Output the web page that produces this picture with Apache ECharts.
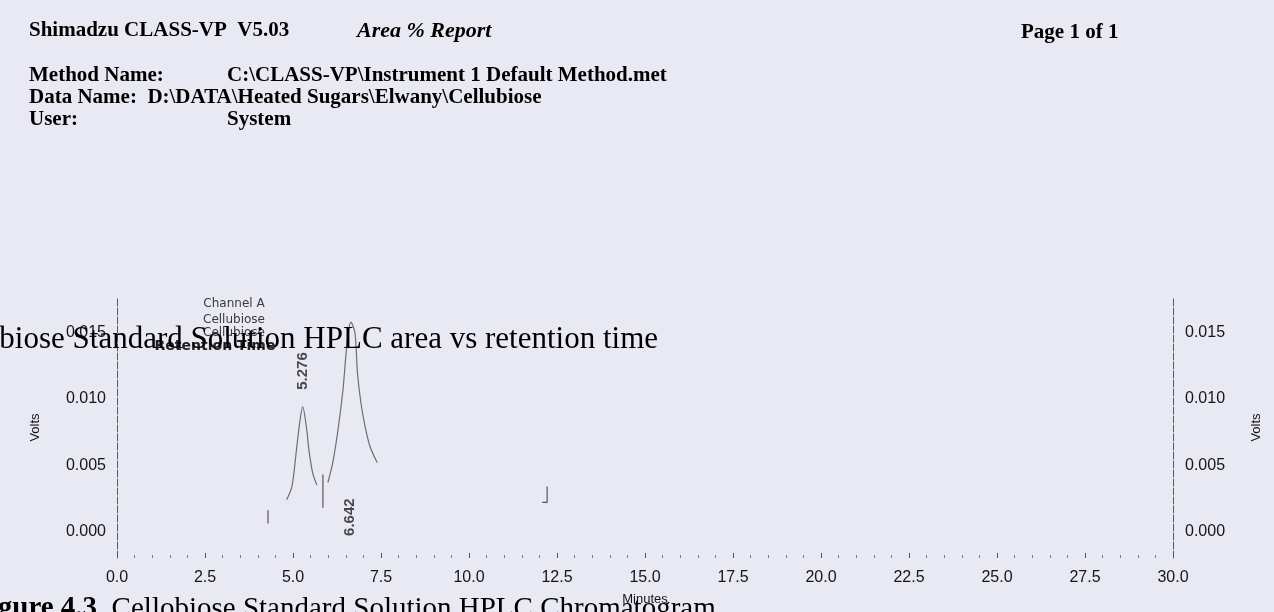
<!DOCTYPE html>
<html>
<head>
<meta charset="utf-8">
<script src="https://cdn.jsdelivr.net/npm/echarts@6.0.0/dist/echarts.min.js"></script>
<style>
html,body{margin:0;padding:0;background:#e8e9f2;}
#chart{width:1274px;height:612px;}
</style>
</head>
<body>
<div id="chart"></div>
<script>
// ---- data ----
const peak1Times = [4.82, 4.97, 5.10, 5.19, 5.276, 5.39, 5.45, 5.56, 5.68];
const peak1Volts = [0.0024, 0.0034, 0.0062, 0.0082, 0.0094, 0.0077, 0.0062, 0.0044, 0.0035];
const peak2Times = [5.99, 6.13, 6.28, 6.42, 6.50, 6.57, 6.642, 6.76, 6.83, 6.93, 7.05, 7.19, 7.39];
const peak2Volts = [0.0037, 0.0052, 0.0077, 0.0107, 0.0132, 0.0150, 0.0158, 0.0150, 0.0120, 0.0097, 0.0079, 0.0064, 0.0052];
const peakRetention = [5.276, 6.642];
const peakApex = [0.0094, 0.0158];
const eventTimes = [4.29, 5.85, 12.22];
const eventTop = [0.0016, 0.0043, 0.0034];
const eventBottom = [0.0006, 0.0018, 0.0022];
const bracketFootTime = 12.08;
const xMin = 0, xMax = 30, xStep = 2.5;
const yMin = -0.002, yMax = 0.0177, yStep = 0.005;
const legendLines = ['Channel A', 'Cellubiose', 'Cellubiose'];
const legendTitle = 'Retention Time';

const headerTitle = 'Shimadzu CLASS-VP  V5.03';
const headerReport = 'Area % Report';
const headerPage = 'Page 1 of 1';
const methodLabel = 'Method Name:';
const methodValue = 'C:\\CLASS-VP\\Instrument 1 Default Method.met';
const dataLine = 'Data Name:  D:\\DATA\\Heated Sugars\\Elwany\\Cellubiose';
const userLabel = 'User:';
const userValue = 'System';
const chartTitle = 'Cellobiose Standard Solution HPLC area vs retention time';
const captionBold = 'Figure 4.3';
const captionText = 'Cellobiose Standard Solution HPLC Chromatogram';

// ---- build series data ----
const traceData = [];
peak1Times.forEach((t, i) => traceData.push([t, peak1Volts[i]]));
traceData.push(null);
peak2Times.forEach((t, i) => traceData.push([t, peak2Volts[i]]));

const eventData = [];
eventTimes.forEach((t, i) => {
  if (i === eventTimes.length - 1) {
    eventData.push([bracketFootTime, eventBottom[i]]);
  }
  eventData.push([t, eventBottom[i]]);
  eventData.push([t, eventTop[i]]);
  eventData.push(null);
});

// label offsets are in the rotated (90°) frame: +x = up on screen, +y = right
const labelOffsets = [[36, 0], [-195, -1]];
const peakLabelData = peakRetention.map((t, i) => ({
  value: [t, peakApex[i]],
  label: { offset: labelOffsets[i] }
}));

const sans = '"Liberation Sans", Arial, sans-serif';
const serif = '"Liberation Serif", "Times New Roman", serif';
const isTick = v => Math.abs(v / yStep - Math.round(v / yStep)) < 1e-6;

function yAxisCfg(pos, gap, margin) {
  return {
    type: 'value', position: pos, min: yMin, max: yMax,
    minInterval: yStep, maxInterval: yStep, splitNumber: 4,
    splitLine: { show: false },
    axisTick: { show: false },
    axisLine: { show: true, onZero: false, lineStyle: { color: '#5a5a5a', width: 1, type: [7, 2] } },
    axisLabel: {
      showMinLabel: false, showMaxLabel: false, margin: margin,
      formatter: v => isTick(v) ? v.toFixed(3) : '',
      fontFamily: sans, fontSize: 16, color: '#151515'
    },
    name: 'Volts', nameLocation: 'middle', nameRotate: 90, nameGap: gap,
    nameTextStyle: { fontFamily: sans, fontSize: 13, color: '#151515' }
  };
}

const hdr = (text, x, y, font, align) => ({
  type: 'text', x: x, y: y, silent: true,
  style: { text: text, font: font, fill: '#000', align: align || 'left', verticalAlign: 'middle' }
});

const hdrFont = 'bold 21px ' + serif;
const legFont = '12px "DejaVu Sans", sans-serif';

const option = {
  backgroundColor: 'transparent',
  animation: false,
  grid: { left: 117, right: 101, top: 297, bottom: 54, containLabel: false },
  xAxis: {
    type: 'value', min: xMin, max: xMax, interval: xStep,
    axisLine: { show: false, onZero: false },
    axisTick: { show: true, inside: true, length: 5, lineStyle: { color: '#555' } },
    minorTick: { show: true, splitNumber: 5, length: 3, lineStyle: { color: '#777' } },
    splitLine: { show: false },
    axisLabel: { formatter: v => v.toFixed(1), margin: 12, fontFamily: sans, fontSize: 16, color: '#151515' },
    name: 'Minutes', nameLocation: 'middle', nameGap: 35,
    nameTextStyle: { fontFamily: sans, fontSize: 13, color: '#151515' }
  },
  yAxis: [yAxisCfg('left', 75, 11), yAxisCfg('right', 77, 12)],
  series: [
    {
      name: 'Channel A', type: 'line', data: traceData, yAxisIndex: 0,
      showSymbol: false, smooth: 0.3, connectNulls: false,
      lineStyle: { color: '#6e6e6e', width: 1.2 }
    },
    {
      name: 'events', type: 'line', data: eventData, yAxisIndex: 0,
      showSymbol: false, connectNulls: false,
      lineStyle: { color: '#555', width: 1.2 }
    },
    {
      name: 'peaks', type: 'scatter', data: peakLabelData, yAxisIndex: 0,
      symbolSize: 0,
      label: {
        show: true, position: 'inside', rotate: 90,
        formatter: p => p.value[0].toFixed(3),
        fontFamily: sans, fontSize: 15, fontWeight: 'bold', color: '#1e1e1e'
      }
    }
  ],
  graphic: [
    hdr(headerTitle, 29, 31, hdrFont),
    hdr(headerReport, 357, 31, 'italic bold 22px ' + serif),
    hdr(headerPage, 1021, 33, hdrFont),
    hdr(methodLabel, 29, 76, hdrFont),
    hdr(methodValue, 227, 76, hdrFont),
    hdr(dataLine, 29, 98, hdrFont),
    hdr(userLabel, 29, 120, hdrFont),
    hdr(userValue, 227, 120, hdrFont),
    { type: 'text', x: 234, y: 304, silent: true, style: { text: legendLines[0], font: legFont, fill: '#3a3a3a', align: 'center', verticalAlign: 'middle' } },
    { type: 'text', x: 234, y: 320, silent: true, style: { text: legendLines[1], font: legFont, fill: '#3a3a3a', align: 'center', verticalAlign: 'middle' } },
    { type: 'text', x: 234, y: 333, silent: true, style: { text: legendLines[2], font: legFont, fill: '#3a3a3a', align: 'center', verticalAlign: 'middle' } },
    { type: 'text', x: 215, y: 346, silent: true, style: { text: legendTitle, font: 'bold 14px "DejaVu Sans", sans-serif', fill: '#222', align: 'center', verticalAlign: 'middle' } },
    { type: 'text', x: 658, y: 340, silent: true, z: 100, style: { text: chartTitle, font: '31px ' + serif, fill: '#000', align: 'right', verticalAlign: 'middle' } },
    { type: 'text', x: -28, y: 609, silent: true, z: 100, style: {
        text: '{b|' + captionBold + '}  ' + captionText,
        font: '29px ' + serif, fill: '#000', align: 'left', verticalAlign: 'middle',
        rich: { b: { font: 'bold 29px ' + serif, fill: '#000' } }
    } }
  ]
};

const chart = echarts.init(document.getElementById('chart'), null, { renderer: 'canvas' });
chart.setOption(option);
</script>
</body>
</html>
